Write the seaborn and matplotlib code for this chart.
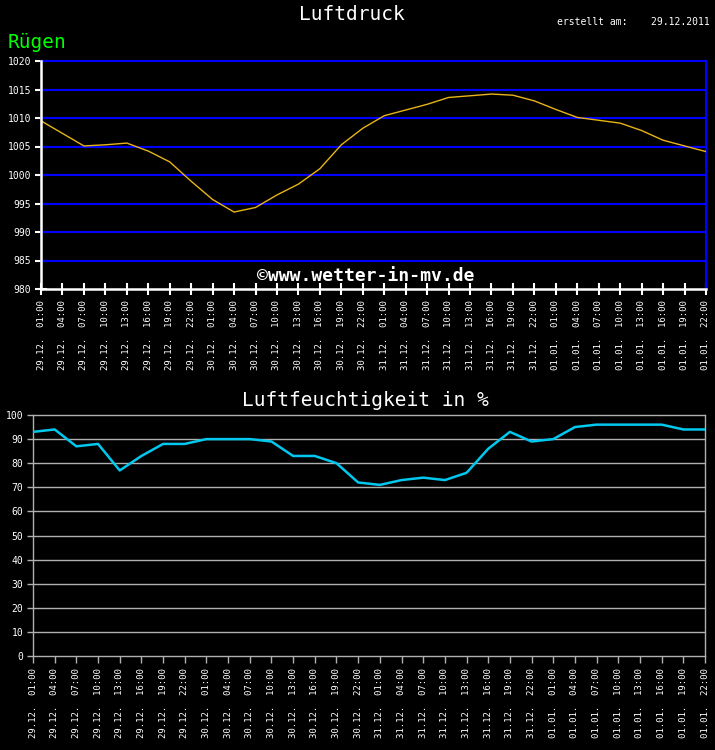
import matplotlib
matplotlib.use("Agg")
import matplotlib.pyplot as plt
import seaborn as sns
import pandas as pd

days = ["29.12."] * 8 + ["30.12."] * 8 + ["31.12."] * 8 + ["01.01."] * 8
hours = ["01:00", "04:00", "07:00", "10:00", "13:00", "16:00", "19:00", "22:00"] * 4
tick_labels = [f"{d}  {h}" for d, h in zip(days, hours)]

pressure = [1009.5, 1007.3, 1005.1, 1005.3, 1005.6, 1004.2, 1002.3, 998.9,
            995.7, 993.5, 994.3, 996.5, 998.4, 1001.1, 1005.3, 1008.2,
            1010.4, 1011.4, 1012.4, 1013.6, 1013.9, 1014.2, 1014.0, 1013.0,
            1011.5, 1010.1, 1009.6, 1009.1, 1007.8, 1006.1, 1005.1, 1004.1]
humidity = [93, 94, 87, 88, 77, 83, 88, 88, 90, 90, 90, 89, 83, 83, 80, 72,
            71, 73, 74, 73, 76, 86, 93, 89, 90, 95, 96, 96, 96, 96, 94, 94]
p_ticks = [980, 985, 990, 995, 1000, 1005, 1010, 1015, 1020]
h_ticks = list(range(0, 101, 10))

df = pd.DataFrame({"idx": range(len(tick_labels)), "pressure": pressure, "humidity": humidity})

sns.set_style("dark")
plt.rcParams["font.family"] = ["DejaVu Sans Mono", "DejaVu Sans"]
plt.rcParams["axes.facecolor"] = "black"
plt.rcParams["figure.facecolor"] = "black"

fig = plt.figure(figsize=(7.15, 7.5), dpi=100)
fig.patch.set_facecolor("black")

# ---------- top: Luftdruck ----------
ax1 = fig.add_axes([41/715, 1-289/750, (706-41)/715, (289-61)/750])
ax1.set_facecolor("black")
for v in p_ticks[1:]:
    ax1.axhline(v, color="#0000ff", lw=1.5, zorder=1, clip_on=False)
sns.lineplot(data=df, x="idx", y="pressure", ax=ax1, color="#e8b418", lw=1.0, zorder=3)
ax1.set_xlim(0, len(tick_labels) - 1)
ax1.set_ylim(980, 1020)
ax1.set_yticks(p_ticks)
ax1.set_yticklabels([str(t) for t in p_ticks], color="white", fontsize=7)
ax1.set_xticks(df["idx"])
ax1.set_xticklabels(tick_labels, rotation=90, color="white", fontsize=6.5, va="top", ha="center")
ax1.tick_params(axis="x", bottom=True, direction="inout", length=8, width=1.5, color="white", pad=4)
ax1.tick_params(axis="y", left=True, direction="inout", length=8, width=1.5, color="white", pad=3)
ax1.set_xlabel("")
ax1.set_ylabel("")
ax1.grid(False)
for s in ["left", "bottom"]:
    ax1.spines[s].set_color("white")
    ax1.spines[s].set_linewidth(1.8)
ax1.spines["right"].set_color("#0000ff")
ax1.spines["right"].set_linewidth(1.5)
ax1.spines["top"].set_visible(False)
ax1.spines["left"].set_zorder(4)
ax1.spines["bottom"].set_zorder(4)
ax1.text(0.489, 0.057, "©www.wetter-in-mv.de", transform=ax1.transAxes, color="white",
         fontsize=13, fontweight="bold", ha="center", va="center", zorder=5)

fig.text(352/715, 1-15/750, "Luftdruck", color="white", fontsize=14, ha="center", va="center")
fig.text(8/715, 1-43/750, "Rügen", color="#00ff00", fontsize=14, ha="left", va="center")
fig.text(710/715, 1-22/750, "erstellt am:    29.12.2011", color="white", fontsize=7,
         ha="right", va="center")

# ---------- bottom: Luftfeuchtigkeit ----------
ax2 = fig.add_axes([33/715, 1-656/750, (705-33)/715, (656-415)/750])
ax2.set_facecolor("black")
for v in h_ticks[1:]:
    ax2.axhline(v, color="#b0b0b0", lw=1.0, zorder=1, clip_on=False)
sns.lineplot(data=df, x="idx", y="humidity", ax=ax2, color="#00c8ee", lw=1.8, zorder=3)
ax2.set_xlim(0, len(tick_labels) - 1)
ax2.set_ylim(0, 100)
ax2.set_yticks(h_ticks)
ax2.set_yticklabels([str(t) for t in h_ticks], color="white", fontsize=7)
ax2.set_xticks(df["idx"])
ax2.set_xticklabels(tick_labels, rotation=90, color="white", fontsize=6.5, va="top", ha="center")
ax2.tick_params(axis="x", bottom=True, direction="out", length=5, width=1.0, color="#b0b0b0", pad=4)
ax2.tick_params(axis="y", left=True, direction="out", length=4, width=1.0, color="#b0b0b0", pad=3)
ax2.set_xlabel("")
ax2.set_ylabel("")
ax2.grid(False)
for s in ["left", "bottom", "right"]:
    ax2.spines[s].set_color("#b0b0b0")
    ax2.spines[s].set_linewidth(1.0)
ax2.spines["top"].set_visible(False)

fig.text(365/715, 1-400/750, "Luftfeuchtigkeit in %", color="white", fontsize=14,
         ha="center", va="center")

fig.savefig("out.png", dpi=100, facecolor="black")
